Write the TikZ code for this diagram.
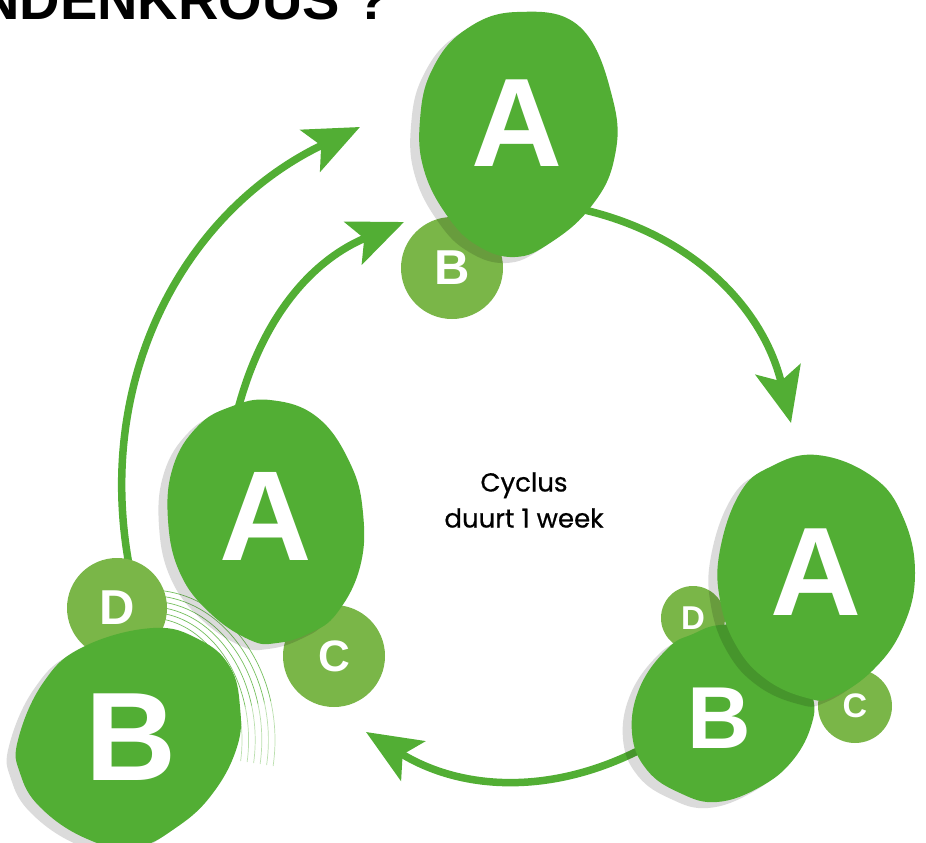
\documentclass[tikz,border=0pt]{standalone}
\usepackage{fontspec}
\setmainfont{Poppins}
\newfontfamily\letterfont{Liberation Sans}
\newfontfamily\cyclefont[FakeBold=0.6]{Poppins}
\usetikzlibrary{arrows.meta}
\definecolor{leafgreen}{HTML}{52AE34}
\definecolor{budgreen}{HTML}{7AB648}
\newcommand{\glyph}[1]{\letterfont\bfseries\fontsize{#1}{#1}\selectfont}

% blob outlines, pixel coordinates (y runs downwards)
\newcommand{\blobTopA}{plot[smooth cycle, tension=.7] coordinates {(517,12) (580,27) (613,100) (614,160) (590,208) (550,243) (515,257) (478,246) (448,217) (424,170) (420,120) (432,70) (465,30)}}
\newcommand{\blobRightA}{plot[smooth cycle, tension=.7] coordinates {(817,455) (873,477) (903,517) (915,573) (903,627) (873,670) (833,697) (807,698) (767,680) (737,647) (720,600) (720,550) (740,493) (770,467)}}
\newcommand{\blobRightB}{plot[smooth cycle, tension=.7] coordinates {(720,625) (760,628) (797,653) (812,693) (812,723) (793,760) (760,787) (717,802) (680,793) (647,770) (632,733) (640,687) (668,648) (693,634)}}
\newcommand{\blobLeftA}{plot[smooth cycle, tension=.7] coordinates {(270,400) (317,417) (350,463) (363,513) (360,567) (337,613) (310,633) (277,643) (250,640) (210,613) (180,573) (168,520) (173,467) (197,427) (230,407)}}
\newcommand{\blobLeftB}{plot[smooth cycle, tension=.7] coordinates {(153,628) (200,640) (230,667) (240,707) (237,747) (213,793) (177,827) (133,848) (85,838) (40,807) (20,773) (18,740) (43,683) (83,647)}}

\begin{document}
\begin{tikzpicture}[x=1pt, y=-1pt,
    blob/.style={fill=leafgreen},
    blobshade/.style={fill=black, fill opacity=.14, shift={(-9,6)}},
    bud/.style={circle, fill=budgreen, inner sep=0pt, text=white},
    bigglyph/.style={text=white, inner sep=0pt},
    looparrow/.style={draw=leafgreen, line width=7.5pt, -{Stealth[length=55pt, width=46pt, inset=12pt]}},
    ripple/.style={draw=leafgreen, line width=.7pt}
  ]
\useasboundingbox (0,0) rectangle (926,843);
\clip (0,0) rectangle (926,843);

% title, cut off at the top
\node[anchor=base west, inner sep=0pt, font=\glyph{56}] (title) at (-21,19.5) {NDENKROUS ?};

% centre text
\node[align=center, font=\cyclefont\fontsize{26}{36}\selectfont] (cycletext) at (524,500) {Cyclus\\duurt 1 week};

% arrow ends
\coordinate (fromTop) at (565,206);
\coordinate (toRight) at (791,423);
\coordinate (fromRight) at (668,734);
\coordinate (toLeft) at (366,732);
\coordinate (fromLeftA) at (233,430);
\coordinate (toTopIn) at (404,222);
\coordinate (fromLeftD) at (130,570);
\coordinate (toTopOut) at (360,127);

% out/in are screen angles
\draw[looparrow] (fromTop) to[out=-10, in=103.6] (toRight);
\draw[looparrow] (fromRight) to[out=212, in=-31.6] (toLeft);
\draw[looparrow] (fromLeftA) to[out=78, in=202.5] (toTopIn);
\draw[looparrow] (fromLeftD) to[out=101, in=205.5] (toTopOut);

% thin ripple lines
\foreach \k [evaluate=\k as \rx using 92+6.6*\k,
             evaluate=\k as \ry using 122+5.6*\k,
             evaluate=\k as \sx using 150+(92+6.6*\k)*cos(-100),
             evaluate=\k as \sy using 740+(122+5.6*\k)*sin(-100),
             evaluate=\k as \tx using 150+(92+6.6*\k)*cos(-15),
             evaluate=\k as \ty using 740+(122+5.6*\k)*sin(-15)] in {0,...,5}{
  \draw[ripple, opacity=.8] (\sx,\sy) arc[start angle=-100, end angle=-15, x radius=\rx, y radius=\ry];
  \draw[ripple, opacity=.4] (\tx,\ty) arc[start angle=-15, end angle=10, x radius=\rx, y radius=\ry];
}

% top cluster
\node[bud, minimum size=102pt, font=\glyph{49}] (topB) at (452,268) {B};
\fill[blobshade] \blobTopA;
\fill[blob] \blobTopA;
\node[bigglyph, font=\glyph{126}] (topA) at (517,123) {A};

% right cluster
\node[bud, minimum size=64pt, font=\glyph{33}] (rightD) at (693,618) {D};
\node[bud, minimum size=74pt, font=\glyph{34}] (rightC) at (855,706) {C};
\fill[blobshade] \blobRightB;
\fill[blob] \blobRightB;
\node[bigglyph, font=\glyph{88}] (rightB) at (719,718) {B};
\fill[blobshade] \blobRightA;
\fill[blob] \blobRightA;
\node[bigglyph, font=\glyph{126}] (rightA) at (816,572) {A};

% left cluster
\node[bud, minimum size=100pt, font=\glyph{49}] (leftD) at (117,608) {D};
\node[bud, minimum size=102pt, font=\glyph{44}] (leftC) at (334,656) {C};
\fill[blobshade] \blobLeftB;
\fill[blob] \blobLeftB;
\node[bigglyph, font=\glyph{126}] (leftB) at (131,737) {B};
\fill[blobshade] \blobLeftA;
\fill[blob] \blobLeftA;
\node[bigglyph, font=\glyph{128}] (leftA) at (266,516) {A};
\end{tikzpicture}
\end{document}
